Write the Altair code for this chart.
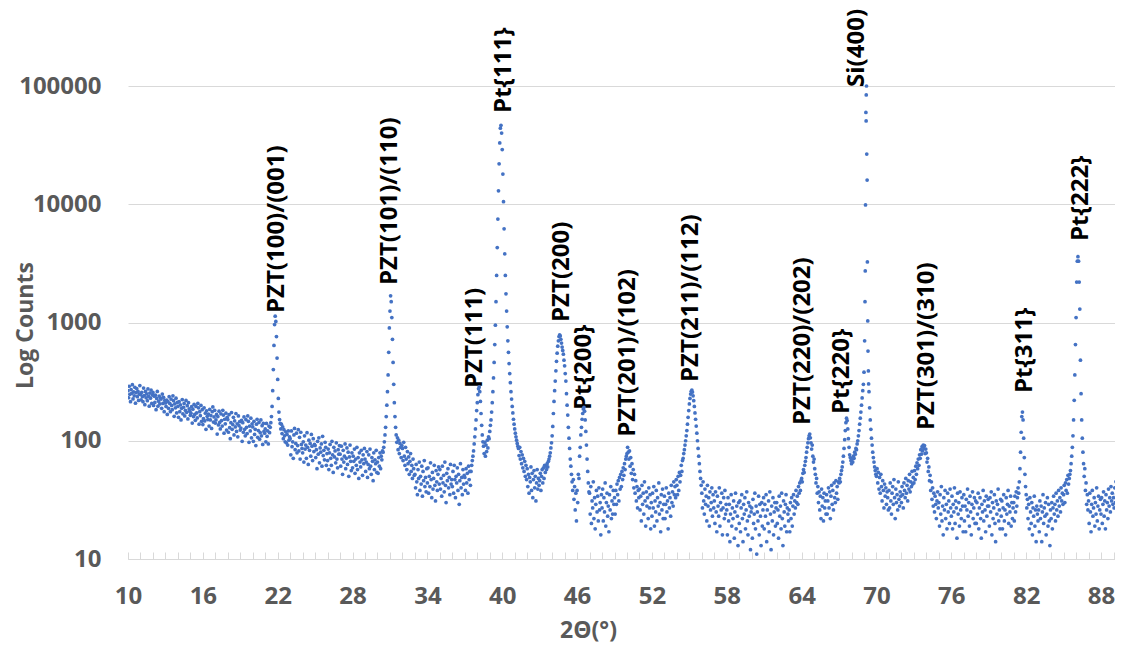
import altair as alt
import pandas as pd

# XRD scan, counts, one list per 10 degree block, 0.05 deg apart
step = 0.05
block_starts = [10, 20, 30, 40, 50, 60, 70, 80]

counts_10_20 = [
    265,231,289,247,214,271,252,298,226,259,240,283,208,255,276,236,262,219,248,293,
    247,222,257,236,214,279,241,202,261,231,249,218,274,237,196,253,229,268,207,244,
    256,199,238,211,243,183,228,261,196,216,239,205,230,225,188,248,207,233,176,219,
    209,195,221,167,214,188,236,207,176,225,199,183,240,218,161,205,190,229,172,211,
    195,158,214,176,201,150,188,223,169,192,207,162,181,219,174,198,153,210,186,178,
    164,171,194,141,185,160,203,167,149,195,172,156,207,190,138,176,163,199,146,183,
    137,154,190,147,171,125,179,161,151,168,133,184,150,163,127,176,193,144,159,181,
    141,150,167,114,160,136,178,143,126,169,148,133,181,165,116,152,139,171,123,158,
    151,118,166,129,104,142,173,125,137,158,112,147,131,170,120,139,108,162,134,145,
    123,128,149,99,142,118,159,125,110,151,130,115,162,146,97,133,121,155,106,139,
]
counts_20_30 = [
    131,99,146,113,125,91,138,152,107,122,143,103,117,150,110,134,93,140,120,116,
    126,98,140,109,121,94,133,117,130,142,160,195,265,400,640,960,1130,1020,760,500,
    330,228,175,151,140,126,138,115,131,104,124,110,98,119,96,113,92,121,101,108,
    104,76,121,89,98,71,112,127,84,95,116,79,91,124,82,107,70,118,93,86,
    79,98,66,110,85,92,71,117,88,63,101,83,95,74,113,90,68,104,81,93,
    91,72,84,58,99,77,106,65,87,80,94,61,109,75,83,69,97,88,62,78,
    68,85,57,79,93,71,62,99,76,54,88,73,82,65,96,70,59,84,77,91,
    77,61,90,70,52,83,66,74,94,58,71,87,63,80,50,73,92,67,56,79,
    59,74,67,85,53,70,62,88,57,72,48,79,66,60,83,69,51,76,64,86,
    70,55,66,81,49,63,76,58,85,61,52,72,67,46,79,57,69,64,83,54,
]
counts_30_40 = [
    66,53,72,61,79,58,74,69,82,80,88,98,112,130,160,200,260,360,560,900,
    1250,1680,1500,1100,720,460,300,210,160,130,112,97,106,84,101,78,95,88,72,91,
    86,68,97,74,62,88,70,57,81,64,73,52,67,78,55,62,48,70,58,51,
    52,40,63,45,35,57,48,66,38,50,43,61,34,55,46,68,41,49,37,58,
    44,59,36,50,41,65,47,33,54,39,48,62,42,31,56,45,38,52,60,43,
    57,39,48,34,61,44,51,37,66,42,30,53,46,58,40,49,35,63,43,47,
    41,55,36,62,47,33,50,44,59,38,52,29,46,64,40,49,35,57,43,51,
    49,38,58,44,53,36,61,47,55,42,55,62,68,74,82,94,108,126,150,180,
    210,245,275,285,260,215,170,135,112,98,90,78,97,74,92,81,101,87,108,104,
    120,135,150,175,210,260,340,460,650,950,1500,2500,4300,7500,13000,22000,33000,44000,46500,40000,
]
counts_40_50 = [
    29000,18000,10500,6200,3800,2500,1750,1250,920,700,560,450,370,310,260,225,195,172,152,138,
    126,116,108,101,95,90,86,75,88,70,81,64,76,59,71,55,67,50,62,47,
    58,41,52,36,49,45,60,38,53,33,47,56,40,50,31,44,57,39,48,42,
    46,53,38,50,57,44,59,48,62,54,61,57,64,60,67,70,74,79,87,96,
    110,132,170,215,265,320,390,470,550,630,700,760,785,770,720,670,620,580,540,480,
    430,370,320,250,200,165,130,105,86,70,61,52,45,38,47,32,41,26,36,21,
    38,30,52,48,74,88,112,130,152,170,186,192,178,150,120,92,70,55,44,37,
    36,24,41,20,31,27,45,22,33,18,29,38,25,34,21,40,26,30,16,35,
    27,39,21,33,25,44,19,30,36,23,28,17,35,26,41,22,31,24,38,29,
    33,24,38,29,43,35,46,31,49,39,52,41,55,47,59,51,64,57,70,74,
]
counts_50_60 = [
    78,88,80,70,82,61,72,53,64,47,57,40,52,36,46,31,41,27,38,33,
    39,26,34,21,42,29,36,24,45,31,19,37,28,33,22,40,27,35,18,30,
    23,36,27,41,19,31,25,38,21,33,28,44,24,30,17,35,26,39,22,29,
    34,22,29,40,25,31,18,36,27,33,23,42,30,37,28,45,35,41,33,47,
    42,35,50,38,54,45,51,62,55,68,71,78,84,92,100,110,122,138,158,180,
    205,228,248,262,268,258,240,218,195,172,152,133,116,100,86,74,64,55,48,42,
    36,27,45,31,24,39,29,34,21,42,28,33,19,37,26,30,40,23,35,27,
    31,20,37,25,17,34,28,23,40,19,30,26,36,16,27,33,22,38,24,29,
    26,16,33,21,29,14,24,35,19,27,22,31,15,25,36,18,28,23,13,30,
    20,31,17,27,35,22,14,29,24,33,18,26,37,21,16,30,23,28,12,25,
]
counts_60_70 = [
    27,15,32,20,24,36,18,28,11,25,21,34,16,29,23,13,30,19,26,33,
    18,29,23,35,14,26,20,31,17,37,24,12,28,21,33,16,25,30,19,27,
    30,20,26,15,34,23,28,18,36,22,13,31,25,19,29,35,17,27,24,21,
    26,17,30,22,33,19,28,35,24,31,27,38,30,34,29,41,36,44,38,46,
    48,45,53,57,54,62,67,72,80,88,96,104,110,114,106,96,85,92,74,66,
    70,58,52,44,48,36,41,30,37,26,34,22,39,28,33,21,36,27,31,24,
    35,24,31,40,27,37,22,34,42,29,38,26,44,33,30,46,36,41,32,45,
    44,48,45,52,56,60,66,74,86,102,122,142,155,148,126,104,88,76,72,68,
    64,70,66,74,71,80,77,86,84,94,100,110,122,138,155,175,200,230,265,300,
    380,700,2730,59700,100000,16000,1030,389,260,190,150,125,105,92,80,72,66,60,56,52,
]
counts_70_80 = [
    50,58,44,54,39,49,36,52,41,31,46,38,27,43,34,40,29,37,33,26,
    38,27,44,31,24,36,41,29,47,33,22,39,30,35,26,45,32,28,37,34,
    30,41,35,27,44,38,33,48,36,42,31,46,39,52,37,45,41,55,43,49,
    44,56,47,61,52,65,58,70,62,76,71,84,77,89,82,92,86,91,78,85,
    79,66,71,55,60,46,51,38,45,32,40,28,36,25,34,29,22,31,37,27,
    30,19,35,24,41,21,28,16,33,26,38,22,29,18,36,25,31,20,39,27,
    23,34,18,29,25,40,20,31,27,15,36,24,30,19,37,26,22,33,28,17,
    35,21,28,17,32,26,39,23,30,19,34,25,16,29,37,22,27,33,20,31,
    20,30,24,36,18,27,33,22,15,29,25,38,21,31,26,17,34,23,28,32,
    28,19,33,25,37,16,30,22,27,35,20,14,31,24,29,39,21,26,18,32,
]
counts_80_90 = [
    23,31,18,27,35,21,26,16,33,24,29,38,20,28,25,34,19,30,22,27,
    30,21,34,25,37,28,33,40,36,45,58,80,118,160,175,150,105,72,52,41,
    35,27,32,22,29,18,33,25,20,30,16,27,23,34,19,26,14,28,24,21,
    26,17,31,22,28,14,25,35,20,27,23,30,16,24,33,19,29,21,13,26,
    22,30,18,27,34,24,29,21,36,26,31,23,38,28,33,25,40,31,36,29,
    35,42,30,44,38,47,36,51,43,48,52,56,64,74,88,110,150,220,360,650,
    1100,2200,3300,3600,3300,2200,1300,480,250,150,105,80,64,50,58,38,44,29,35,26,
    31,20,36,25,17,29,38,23,27,33,19,30,24,40,21,28,34,18,26,32,
    24,33,20,29,37,23,31,18,35,26,30,22,39,28,33,25,41,31,36,29,
    33,27,40,30,45,35,29,42,37,48,34,44,51,39,47,42,55,45,52,48,
]
blocks = [counts_10_20, counts_20_30, counts_30_40, counts_40_50,
          counts_50_60, counts_60_70, counts_70_80, counts_80_90]
for b in blocks:
    assert len(b) == 200, len(b)

# extra points on the very sharp Si(400) peak
si_two_theta = [69.08, 69.12, 69.17, 69.18, 69.22, 69.27, 69.32, 69.37]
si_counts = [1500, 9860, 50600, 84000, 26600, 3250, 574, 302]

# peak annotations: text, and where the foot of each label sits
label_text = ["PZT(100)/(001)", "PZT(101)/(110)", "PZT(111)", "Pt{111}", "PZT(200)",
              "Pt{200}", "PZT(201)/(102)", "PZT(211)/(112)", "PZT(220)/(202)",
              "Pt{220}", "Si(400)", "PZT(301)/(310)", "Pt{311}", "Pt{222}"]
label_two_theta = [21.98, 31.04, 37.78, 40.18, 44.83, 46.59, 50.12, 55.17, 64.07,
                   67.20, 68.40, 74.01, 81.87, 86.36]
label_counts = [1202, 2075, 279, 59200, 1010, 182, 108, 314, 136, 168, 98200, 123,
                253, 4890]

x_tick_values = [10, 16, 22, 28, 34, 40, 46, 52, 58, 64, 70, 76, 82, 88]
x_minor_ticks = list(range(10, 90))
y_tick_values = [10, 100, 1000, 10000, 100000]
x_domain = [10, 89.12]
y_domain = [10, 456700]

rows = []
for start, block in zip(block_starts, blocks):
    for i, c in enumerate(block):
        rows.append({"two_theta": round(start + i * step, 2), "counts": c})
for t, c in zip(si_two_theta, si_counts):
    rows.append({"two_theta": t, "counts": c})
df = pd.DataFrame(rows)

ldf = pd.DataFrame({"label": label_text, "label_two_theta": label_two_theta,
                    "label_counts": label_counts})

W, H = 987, 551
FONT = "Open Sans"
GREY = "#595959"
LINE = "#D9D9D9"

x_scale = alt.Scale(domain=x_domain, nice=False, zero=False)
y_scale = alt.Scale(type="log", domain=y_domain, nice=False)

y_axis = alt.Axis(values=y_tick_values, format="d", grid=True, orient="left",
                  gridColor=LINE, gridWidth=1, ticks=False, tickSize=0,
                  domain=False, labelFont=FONT, labelFontSize=24,
                  labelFontWeight="bold", labelColor=GREY, labelPadding=27,
                  labelFlush=False,
                  title="Log Counts", titleFont=FONT, titleFontSize=23,
                  titleFontWeight="bold", titleColor=GREY,
                  titleX=-103, titleY=317, titleAngle=270,
                  titleAlign="center", titleBaseline="middle")

points = alt.Chart(df).mark_circle(size=14, color="#4472C4", opacity=1, clip=True).encode(
    x=alt.X("two_theta:Q", scale=x_scale,
            axis=alt.Axis(values=x_tick_values, orient="bottom", title="2Θ(°)",
                          grid=False, ticks=False, tickSize=0, domain=True,
                          domainColor=LINE, domainWidth=1, labelFlush=False,
                          labelFont=FONT, labelFontSize=24, labelFontWeight="bold",
                          labelColor=GREY, labelPadding=25,
                          titleFont=FONT, titleFontSize=23, titleFontWeight="bold",
                          titleColor=GREY, titleX=460, titleY=78,
                          titleBaseline="alphabetic", titleAlign="center")),
    y=alt.Y("counts:Q", scale=y_scale, axis=y_axis),
)

labels = alt.Chart(ldf).mark_text(angle=270, align="left", baseline="middle",
                                   font=FONT, fontSize=24, fontWeight="bold",
                                   color="#000000").encode(
    x=alt.X("label_two_theta:Q", scale=x_scale,
            axis=alt.Axis(orient="top", values=x_minor_ticks, offset=-H, labels=False,
                          domain=False, grid=False, ticks=True, tickSize=7,
                          tickColor=LINE, tickWidth=1, title=None)),
    y=alt.Y("label_counts:Q", scale=y_scale, axis=y_axis),
    text="label:N",
)

chart = alt.layer(labels, points).properties(
    width=W, height=H,
    padding={"left": 120, "top": 0, "right": 0, "bottom": 84},
    autosize=alt.AutoSizeParams(type="none"),
    background="white",
).configure_view(strokeWidth=0)

chart.save("out.html", embed_options={"renderer": "svg", "actions": False})
